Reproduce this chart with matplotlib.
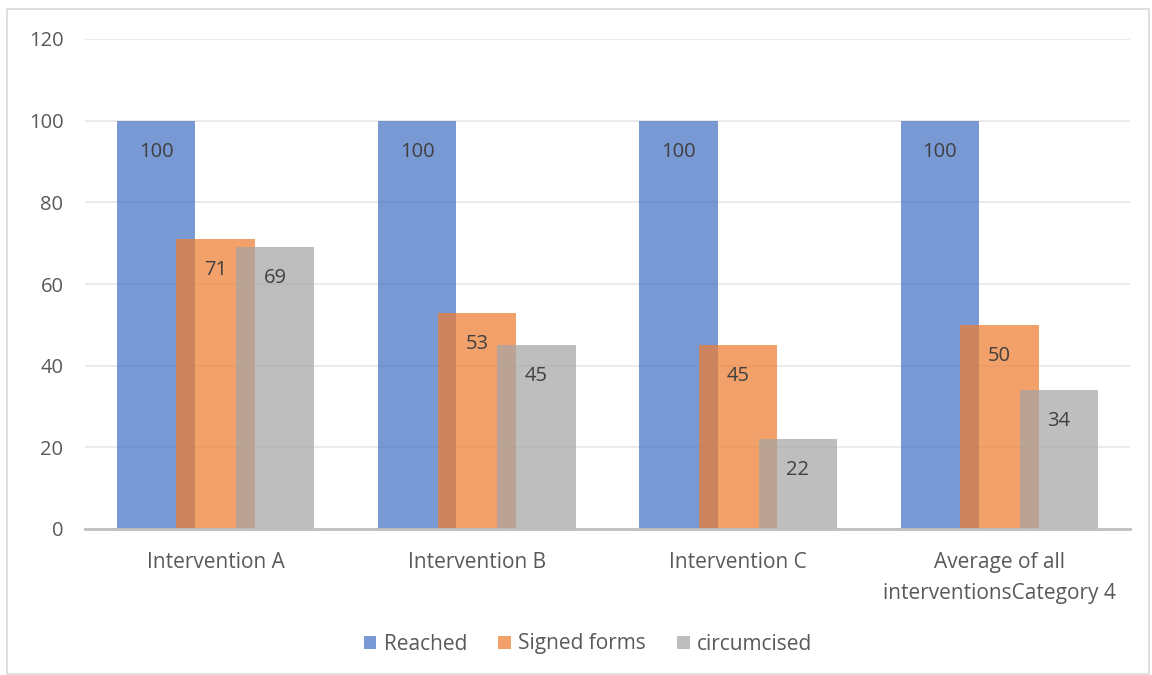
import matplotlib
matplotlib.use("Agg")
import matplotlib.pyplot as plt
import numpy as np
from matplotlib.patches import Rectangle

categories = ["Intervention A", "Intervention B", "Intervention C", "Average of all\ninterventionsCategory 4"]
series_names = ["Reached", "Signed forms", "circumcised"]
reached = [100, 100, 100, 100]
signed = [71, 53, 45, 50]
circumcised = [69, 45, 22, 34]
yticks = [0, 20, 40, 60, 80, 100, 120]

colors = ["#4472C4", "#ED7D31", "#A5A5A5"]
txt = "#595959"
W, H = 1152, 675
fig = plt.figure(figsize=(W / 100, H / 100), dpi=100)
plt.rcParams['font.family'] = ['Open Sans', 'DejaVu Sans']

ax = fig.add_axes([85 / W, 1 - 529 / H, (1130 - 85) / W, (529 - 39) / H])
x = np.arange(len(categories))
width = 0.30
offset = 0.228
data = [reached, signed, circumcised]
for i, (vals, c, name) in enumerate(zip(data, colors, series_names)):
    bars = ax.bar(x + (i - 1) * offset, vals, width, color=c, alpha=0.72, label=name, zorder=2 + i)
    for b, v in zip(bars, vals):
        ax.annotate(str(v), (b.get_x() + b.get_width() / 2, v), xytext=(0, -31),
                    textcoords="offset pixels", ha="center", va="center",
                    fontsize=14.5, color="#404040", zorder=10)

ax.set_xlim(-0.5, len(categories) - 0.5)
ax.set_ylim(0, 120)
ax.set_yticks(yticks)
ax.set_xticks(x)
ax.set_xticklabels(categories, fontsize=15, color=txt, linespacing=1.6)
ax.tick_params(axis='y', labelsize=14.5, labelcolor=txt, length=0, pad=15.5)
ax.tick_params(axis='x', length=0, pad=16.5)
ax.grid(axis='y', color="#E6E6E6", linewidth=1.2, zorder=0)
ax.set_axisbelow(True)
for s in ["top", "right", "left"]:
    ax.spines[s].set_visible(False)
ax.spines["bottom"].set_color("#BFBFBF")
ax.spines["bottom"].set_linewidth(2)
ax.spines["bottom"].set_zorder(20)

leg = fig.legend(loc="center", bbox_to_anchor=(588 / W, 1 - 644 / H), ncol=3, frameon=False,
                 fontsize=15, handlelength=0.6, handleheight=0.6, handletextpad=0.35,
                 columnspacing=1.5)
for t in leg.get_texts():
    t.set_color(txt)
for h in leg.legend_handles:
    h.set_alpha(0.72)

fig.patches.append(Rectangle((7 / W, 1 - 674 / H), (1149 - 7) / W, (674 - 9) / H,
                             transform=fig.transFigure, fill=False, edgecolor="#D9D9D9", linewidth=1.2))

fig.savefig("out.png", dpi=100)
